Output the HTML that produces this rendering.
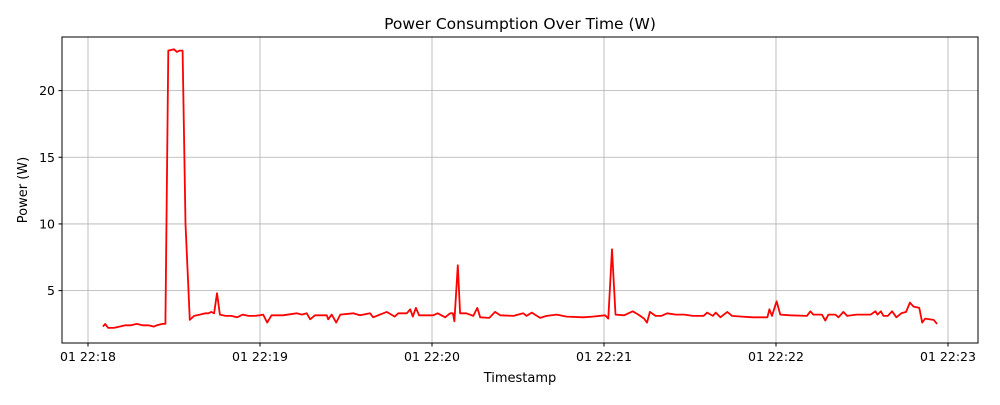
<!DOCTYPE html>
<html><head><meta charset="utf-8"><style>
body{margin:0;background:#fff;}
svg text{font-family:"DejaVu Sans","Liberation Sans",sans-serif;fill:#000;}
</style></head><body>
<svg id="chart" width="1000" height="400" xmlns="http://www.w3.org/2000/svg">
<rect width="1000" height="400" fill="#fff"/>
<text x="520" y="29" font-size="15.5" text-anchor="middle">Power Consumption Over Time (W)</text>
<g id="grid"></g>
<g id="ticks"></g>
<path id="line" fill="none" stroke="#ff0000" stroke-width="1.8" stroke-linejoin="round"/>
<rect x="62" y="37" width="916" height="306" fill="none" stroke="#000" stroke-width="1"/>
<text x="520" y="382" font-size="13" text-anchor="middle">Timestamp</text>
<text transform="translate(27,190) rotate(-90)" font-size="13" text-anchor="middle">Power (W)</text>
</svg>
<script>
// seconds after 22:18:00
const times=[5.2,6,7,9,11,13,15,17,19,21,23,24,26,27,28,30,31,32,33,34,35.5,37,39,41,42,43,44,45,46,48,50,52,54,56,58,60,61.1,62.5,64,68,72.8,74.6,76.3,77.5,79.2,83.3,83.8,85,86.6,88,92.5,94.9,98.4,99.5,104.2,107,108.2,111.2,112.4,113.3,114.4,115.5,118.3,120.4,122,124.6,126.3,127.3,127.8,129,129.8,132,134.4,135.8,136.8,140,142,143.8,148.4,151.8,153,154.8,157.7,160,163.5,167,172.8,176,180.4,181.5,182.8,184,187,190,192,194,195,196,198,200,202,205,208,211,214.7,216,218,219,220.6,223,224.7,228,232,237,237.7,238.6,240.2,241.5,245,250.8,252,253,256,257.2,258.3,260.7,261.8,263.5,264.8,268,273,274.7,275.4,276.6,277.5,279,280.5,282,283.7,285.4,286.7,288,290,291,292,295,296.2];
const power=[2.3,2.5,2.2,2.2,2.3,2.4,2.4,2.5,2.4,2.4,2.3,2.4,2.5,2.5,23.0,23.1,22.9,23.0,23.0,10,2.8,3.1,3.2,3.3,3.3,3.4,3.3,4.8,3.2,3.1,3.1,3.0,3.2,3.1,3.1,3.15,3.2,2.6,3.15,3.15,3.3,3.2,3.3,2.85,3.15,3.15,2.85,3.2,2.6,3.2,3.3,3.15,3.3,3.0,3.4,3.05,3.3,3.3,3.6,3.05,3.7,3.15,3.15,3.15,3.3,3.0,3.3,3.3,2.7,6.9,3.3,3.3,3.1,3.7,3.0,2.95,3.4,3.15,3.1,3.3,3.1,3.35,2.95,3.1,3.2,3.05,3.0,3.05,3.15,2.9,8.1,3.2,3.15,3.45,3.2,2.9,2.6,3.4,3.1,3.1,3.3,3.2,3.2,3.1,3.1,3.35,3.1,3.35,3.0,3.4,3.1,3.05,3.0,3.0,3.6,3.1,4.2,3.2,3.15,3.1,3.45,3.2,3.2,2.75,3.2,3.2,3.0,3.4,3.1,3.2,3.2,3.45,3.2,3.45,3.1,3.1,3.45,3.0,3.3,3.4,4.1,3.8,3.7,2.6,2.9,2.8,2.5];
const yTicks=[5,10,15,20];
const xTickSecs=[0,60,120,180,240,300];
const xTickLabels=["01 22:18","01 22:19","01 22:20","01 22:21","01 22:22","01 22:23"];

const NS="http://www.w3.org/2000/svg";
const X0=62,X1=978,Y0=343,Y1=37;
const xMin=-9.07,xMax=310.47,yMin=1.07,yMax=24.02;
const xs=s=>X0+(s-xMin)/(xMax-xMin)*(X1-X0);
const ys=v=>Y0-(v-yMin)/(yMax-yMin)*(Y0-Y1);
const grid=document.getElementById('grid'),ticks=document.getElementById('ticks');
function mk(tag,attrs,parent){const e=document.createElementNS(NS,tag);for(const k in attrs)e.setAttribute(k,attrs[k]);parent.appendChild(e);return e;}
yTicks.forEach(v=>{
  const y=ys(v);
  const g=mk('line',{x1:X0,x2:X1,y1:y,y2:y,stroke:'#b0b0b0','stroke-width':0.8},grid);
  
  
  mk('line',{x1:X0-3.5,x2:X0,y1:y,y2:y,stroke:'#000'},ticks);
  const t=mk('text',{x:X0-7,y:y+4.5,'font-size':12.5,'text-anchor':'end'},ticks);
  t.textContent=v;
  
  
});
xTickSecs.forEach((s,i)=>{
  const x=xs(s);
  const g=mk('line',{x1:x,x2:x,y1:Y0,y2:Y1,stroke:'#b0b0b0','stroke-width':0.8},grid);
  
  
  mk('line',{x1:x,x2:x,y1:Y0,y2:Y0+3.5,stroke:'#000'},ticks);
  const t=mk('text',{x:x,y:Y0+18,'font-size':12.5,'text-anchor':'middle'},ticks);
  t.textContent=xTickLabels[i];
  
  
});
document.getElementById('line').setAttribute('d',times.map((s,i)=>(i?'L':'M')+xs(s).toFixed(1)+','+ys(power[i]).toFixed(1)).join(''));
</script>
</body></html>
